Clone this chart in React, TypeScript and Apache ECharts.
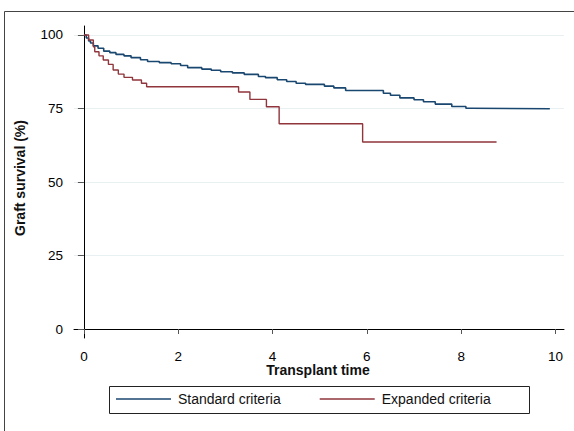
import React, { useEffect, useRef } from "react";
import * as echarts from "echarts";

const seriesNames = ["Standard criteria", "Expanded criteria"];

const standardTime = [0, 0.05, 0.1, 0.14, 0.2, 0.3, 0.42, 0.55, 0.68, 0.85, 1.0, 1.2, 1.35, 1.6, 1.85, 2.05, 2.2, 2.5, 2.7, 2.9, 3.15, 3.4, 3.7, 3.85, 4.1, 4.3, 4.5, 4.7, 5.1, 5.3, 5.55, 6.35, 6.5, 6.7, 7.0, 7.2, 7.45, 7.8, 8.1, 8.2, 9.88];
const standardSurv = [100, 99.0, 98.0, 97.3, 96.3, 95.5, 94.5, 94.0, 93.4, 92.9, 92.3, 91.6, 91.0, 90.6, 90.2, 89.6, 88.9, 88.4, 88.0, 87.5, 87.1, 86.6, 85.9, 85.5, 84.8, 84.2, 83.6, 83.2, 82.6, 82.0, 81.1, 80.2, 79.5, 78.6, 78.0, 77.3, 76.5, 75.7, 75.1, 74.9, 74.9];

const expandedTime = [0, 0.1, 0.2, 0.23, 0.32, 0.41, 0.52, 0.62, 0.73, 0.85, 1.03, 1.22, 1.33, 3.28, 3.52, 3.87, 4.14, 5.91, 8.75];
const expandedSurv = [100, 98.3, 96.0, 94.3, 92.9, 91.5, 90.0, 88.1, 86.7, 85.6, 84.7, 83.6, 82.4, 80.6, 78.1, 75.6, 69.8, 63.6, 63.6];

const xTicks = [0, 2, 4, 6, 8, 10];
const yTicks = [0, 25, 50, 75, 100];

const colors = ["#1a476f", "#90353b"];
const FONT = "'Liberation Sans', Arial, Helvetica, sans-serif";

export default function App() {
  const ref = useRef<HTMLDivElement>(null);
  useEffect(() => {
    if (!ref.current) return;
    const chart = echarts.init(ref.current, null, { renderer: "svg" });
    const toPairs = (t: number[], s: number[]) => t.map((v, i) => [v, s[i]]);
    chart.setOption({
      animation: false,
      textStyle: { fontFamily: FONT },
      grid: { left: 74, right: 10, top: 26, bottom: 93, containLabel: false },
      xAxis: {
        type: "value",
        min: -0.21,
        max: 10.18,
        axisLine: { show: true, lineStyle: { color: "#000", width: 1 } },
        axisTick: { show: true, length: 5, customValues: xTicks, lineStyle: { color: "#555" } },
        axisLabel: { customValues: xTicks, margin: 12, fontSize: 13.5, lineHeight: 12, color: "#000", fontFamily: FONT },
        splitLine: { show: false },
      },
      yAxis: {
        type: "value",
        min: -3.06,
        max: 103.06,
        axisLine: { show: true, lineStyle: { color: "#000", width: 1 } },
        axisTick: { show: true, length: 6, customValues: yTicks, lineStyle: { color: "#555" } },
        axisLabel: { customValues: yTicks, margin: 11, fontSize: 13.5, color: "#000", fontFamily: FONT },
        splitLine: { show: true, lineStyle: { color: "#e8f0f2", width: 1 } },
      },
      legend: {
        left: 116,
        top: 392,
        padding: 0,
        icon: "rect",
        itemWidth: 55,
        itemHeight: 1.6,
        itemGap: 39,
        textStyle: { fontSize: 14, color: "#111", fontFamily: FONT, padding: [0, 0, 0, 2] },
        data: seriesNames,
      },
      graphic: [
        {
          type: "rect",
          shape: { x: 4.5, y: 11.5, width: 700, height: 600 },
          style: { fill: "none", stroke: "#444", lineWidth: 1 },
          silent: true,
        },
        {
          type: "rect",
          shape: { x: 109.5, y: 386.5, width: 420, height: 27 },
          style: { fill: "none", stroke: "#222", lineWidth: 1 },
          silent: true,
        },
        {
          type: "text",
          x: 318,
          y: 370,
          style: {
            text: "Transplant time",
            font: `bold 14px ${FONT}`,
            lineHeight: 13,
            fill: "#111",
            align: "center",
            verticalAlign: "middle",
          },
        },
        {
          type: "text",
          x: 20,
          y: 178,
          rotation: Math.PI / 2,
          style: {
            text: "Graft survival (%)",
            font: `bold 14px ${FONT}`,
            fill: "#111",
            align: "center",
            verticalAlign: "middle",
          },
        },
      ],
      series: [
        {
          name: seriesNames[0],
          type: "line",
          step: "end",
          symbol: "none",
          data: toPairs(standardTime, standardSurv),
          lineStyle: { color: colors[0], width: 1.6 },
          itemStyle: { color: colors[0] },
        },
        {
          name: seriesNames[1],
          type: "line",
          step: "end",
          symbol: "none",
          data: toPairs(expandedTime, expandedSurv),
          lineStyle: { color: colors[1], width: 1.4 },
          itemStyle: { color: colors[1] },
        },
      ],
    });
    return () => chart.dispose();
  }, []);
  return <div ref={ref} style={{ width: 574, height: 431, position: "absolute", left: 0, top: 0 }} />;
}
